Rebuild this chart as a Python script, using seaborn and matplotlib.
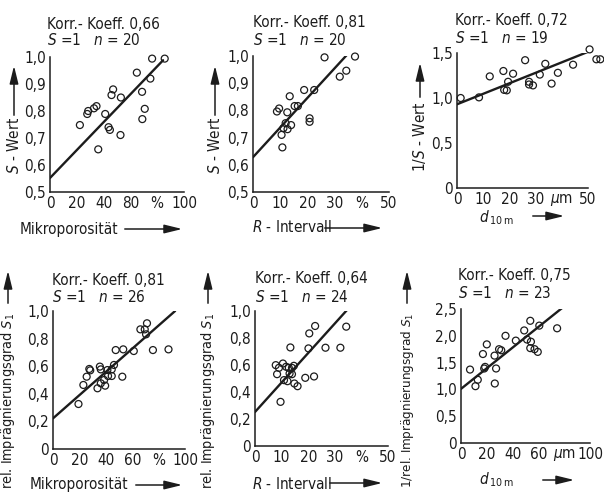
import matplotlib
matplotlib.use("Agg")
import matplotlib.pyplot as plt
from matplotlib import font_manager
import seaborn as sns
import pandas as pd

# ---- panel 1: S-Wert over Mikroporositaet
mikro_s_x = [22.3, 27.8, 28.5, 32.8, 34.7, 36.0, 41.2, 43.7, 44.7, 45.9,
             47.1, 52.6, 52.9, 64.8, 68.7, 68.9, 70.7, 74.9, 76.2, 85.6]
mikro_s_y = [0.748, 0.789, 0.800, 0.810, 0.818, 0.658, 0.789, 0.740, 0.730, 0.859,
             0.880, 0.711, 0.850, 0.942, 0.871, 0.770, 0.808, 0.920, 0.994, 0.994]
mikro_s_fit_x = [0, 84.4]
mikro_s_fit_y = [0.552, 0.988]

# ---- panel 2: S-Wert over R-Intervall
rint_s_x = [8.8, 9.6, 10.5, 10.8, 12.0, 12.6, 12.7, 13.5, 14.0, 15.3,
            16.5, 18.8, 20.8, 20.8, 22.5, 26.3, 31.9, 34.3, 37.5, 11.2]
rint_s_y = [0.796, 0.807, 0.710, 0.664, 0.753, 0.793, 0.731, 0.852, 0.746, 0.816,
            0.816, 0.875, 0.771, 0.758, 0.875, 0.995, 0.924, 0.946, 0.998, 0.735]
rint_s_fit_x = [0, 34.7]
rint_s_fit_y = [0.628, 1.006]

# ---- panel 3: 1/S-Wert over d10m
d10_s_x = [1.4, 8.4, 12.5, 17.7, 18.0, 19.0, 19.5, 21.4, 26.0, 27.5,
           27.5, 29.0, 31.6, 33.7, 36.1, 38.5, 44.3, 50.6, 53.2, 54.7]
d10_s_y = [1.00, 1.007, 1.24, 1.30, 1.09, 1.085, 1.18, 1.27, 1.42, 1.18,
           1.15, 1.14, 1.26, 1.38, 1.16, 1.28, 1.37, 1.54, 1.43, 1.43]
d10_s_fit_x = [0, 50]
d10_s_fit_y = [0.93, 1.513]

# ---- panel 4: rel. Impraegnierungsgrad over Mikroporositaet
mikro_imp_x = [19.3, 23.0, 25.5, 27.5, 28.2, 33.7, 35.5, 36.2, 36.2, 38.7,
               39.5, 41.2, 41.7, 44.5, 44.5, 46.2, 47.5, 52.5, 53.2, 61.2,
               66.2, 69.5, 70.5, 71.2, 75.7, 87.5]
mikro_imp_y = [0.326, 0.464, 0.524, 0.580, 0.570, 0.440, 0.597, 0.577, 0.476, 0.500,
               0.459, 0.572, 0.529, 0.577, 0.529, 0.609, 0.717, 0.524, 0.722, 0.710,
               0.867, 0.867, 0.831, 0.911, 0.717, 0.722]
mikro_imp_fit_x = [0, 92.5]
mikro_imp_fit_y = [0.222, 1.0]

# ---- panel 5: rel. Impraegnierungsgrad over R-Intervall
rint_imp_x = [7.8, 8.3, 9.0, 9.6, 10.5, 10.9, 12.2, 12.7, 13.0, 13.3,
              13.9, 13.9, 14.6, 14.8, 16.0, 18.9, 20.1, 20.4, 22.2, 22.6,
              26.5, 32.1, 34.3, 11.7]
rint_imp_y = [0.599, 0.532, 0.579, 0.327, 0.611, 0.488, 0.480, 0.579, 0.537, 0.730,
              0.579, 0.532, 0.594, 0.463, 0.443, 0.505, 0.723, 0.834, 0.515, 0.889,
              0.728, 0.728, 0.884, 0.587]
rint_imp_fit_x = [0, 34.8]
rint_imp_fit_y = [0.252, 1.012]

# ---- panel 6: 1/rel. Impraegnierungsgrad over d10m
d10_imp_x = [7.0, 11.2, 13.0, 17.0, 18.0, 18.7, 20.0, 26.0, 26.2, 27.2,
             29.5, 31.2, 34.5, 42.5, 49.0, 51.2, 53.7, 54.2, 53.7, 57.0,
             59.5, 60.7, 74.5]
d10_imp_y = [1.37, 1.06, 1.18, 1.66, 1.39, 1.42, 1.84, 1.63, 1.11, 1.39,
             1.75, 1.73, 2.00, 1.91, 2.10, 1.93, 2.28, 1.89, 1.77, 1.75,
             1.70, 2.19, 2.14]
d10_imp_fit_x = [0, 80]
d10_imp_fit_y = [1.01, 2.55]

# ---- ticks
mikro_ticks = [0, 20, 40, 60, 80, 100]
mikro_ticklabels = ["0", "20", "40", "80", "%", "100"]
mikro_ticklabels_b = ["0", "20", "40", "60", "%", "100"]
rint_ticks = [0, 10, 20, 30, 40, 50]
rint_ticklabels = ["0", "10", "20", "30", "%", "50"]
d10_ticks_a = [0, 10, 20, 30, 40, 50]
d10_ticklabels_a = ["0", "10", "20", "30", r"$\mu$m", "50"]
d10_ticks_b = [0, 20, 40, 60, 80, 100]
d10_ticklabels_b = ["0", "20", "40", "60", r"$\mu$m", "100"]
s_ticks = [0.5, 0.6, 0.7, 0.8, 0.9, 1.0]
s_ticklabels = ["0,5", "0,6", "0,7", "0,8", "0,9", "1,0"]
inv_s_ticks = [0, 0.5, 1.0, 1.5]
inv_s_ticklabels = ["0", "0,5", "1,0", "1,5"]
imp_ticks = [0, 0.2, 0.4, 0.6, 0.8, 1.0]
imp_ticklabels = ["0", "0,2", "0,4", "0,6", "0,8", "1,0"]
inv_imp_ticks = [0, 0.5, 1.0, 1.5, 2.0, 2.5]
inv_imp_ticklabels = ["0", "0,5", "1,0", "1,5", "2,0", "2,5"]

korr = ["0,66", "0,81", "0,72", "0,81", "0,64", "0,75"]
counts = [20, 20, 19, 26, 24, 23]

INK = "#1c1c1c"
W, H = 604, 492

sns.set_style("white")

# narrow face like the drawing lettering, if one is installed
entries = font_manager.fontManager.ttflist
narrow = [f.name for f in entries if "Narrow" in f.name or "Condensed" in f.name]
dv_cond = [f for f in entries if f.name == "DejaVu Sans" and f.stretch == "condensed"]
if dv_cond:
    FAM = "DejaVu Sans"
    plt.rcParams["font.stretch"] = "condensed"
    FS = 11
elif narrow:
    FAM = narrow[0]
    FS = 11
else:
    FAM = "DejaVu Sans"
    FS = 9.2
plt.rcParams["font.family"] = [FAM, "DejaVu Sans"]
plt.rcParams["mathtext.fontset"] = "custom"
stretch = ":stretch=condensed" if dv_cond else ""
plt.rcParams["mathtext.rm"] = FAM + stretch
plt.rcParams["mathtext.it"] = FAM + ":italic" + stretch
plt.rcParams["text.color"] = INK


def box(left, top, right, bottom):
    return [left / W, 1 - bottom / H, (right - left) / W, (bottom - top) / H]


def fxy(px, py):
    return (px / W, 1 - py / H)


def arrow(fig, p0, p1):
    fig.add_artist(matplotlib.patches.FancyArrowPatch(
        fxy(*p0), fxy(*p1), transform=fig.transFigure,
        arrowstyle="-|>,head_length=0.9,head_width=0.22",
        mutation_scale=12, color=INK, lw=1.1))


def panel(fig, rect, x, y, fit_x, fit_y, xt, xtl, yt, ytl):
    ax = fig.add_axes(rect)
    df = pd.DataFrame({"x": x, "y": y})
    sns.lineplot(x=fit_x, y=fit_y, ax=ax, color=INK, lw=1.7, zorder=2)
    sns.scatterplot(data=df, x="x", y="y", ax=ax, s=25, marker="o",
                    facecolor="none", edgecolor=INK, linewidth=0.9,
                    clip_on=False, zorder=3)
    ax.set_xlim(xt[0], xt[-1])
    ax.set_ylim(yt[0], yt[-1])
    ax.set_xticks(xt)
    ax.set_xticklabels(xtl)
    ax.set_yticks(yt)
    ax.set_yticklabels(ytl)
    ax.set_xlabel("")
    ax.set_ylabel("")
    sns.despine(ax=ax)
    for s in ("left", "bottom"):
        ax.spines[s].set_color(INK)
        ax.spines[s].set_linewidth(1.1)
    ax.tick_params(direction="in", length=5, width=1.0, colors=INK,
                   labelsize=FS, pad=3)
    ax.patch.set_alpha(0)
    return ax


fig = plt.figure(figsize=(W / 100, H / 100), dpi=100)

panels = [
    (box(50, 57, 184, 192), mikro_s_x, mikro_s_y, mikro_s_fit_x, mikro_s_fit_y,
     mikro_ticks, mikro_ticklabels, s_ticks, s_ticklabels),
    (box(253, 56, 389, 192), rint_s_x, rint_s_y, rint_s_fit_x, rint_s_fit_y,
     rint_ticks, rint_ticklabels, s_ticks, s_ticklabels),
    (box(457, 53, 588, 188), d10_s_x, d10_s_y, d10_s_fit_x, d10_s_fit_y,
     d10_ticks_a, d10_ticklabels_a, inv_s_ticks, inv_s_ticklabels),
    (box(53, 311, 185, 449), mikro_imp_x, mikro_imp_y, mikro_imp_fit_x, mikro_imp_fit_y,
     mikro_ticks, mikro_ticklabels_b, imp_ticks, imp_ticklabels),
    (box(255, 311, 388, 446), rint_imp_x, rint_imp_y, rint_imp_fit_x, rint_imp_fit_y,
     rint_ticks, rint_ticklabels, imp_ticks, imp_ticklabels),
    (box(461, 309, 590, 443), d10_imp_x, d10_imp_y, d10_imp_fit_x, d10_imp_fit_y,
     d10_ticks_b, d10_ticklabels_b, inv_imp_ticks, inv_imp_ticklabels),
]
for p in panels:
    panel(fig, *p)

# header lines above each panel
head_pos = [(47, 29, 45), (253, 27, 45), (455, 25, 43),
            (52, 285, 302), (255, 283, 302), (458, 280, 298)]
for (hx, hy1, hy2), k, n in zip(head_pos, korr, counts):
    fig.text(*fxy(hx, hy1), f"Korr.- Koeff. {k}", fontsize=FS, va="baseline")
    fig.text(*fxy(hx, hy2), f"$S$ =1   $n$ = {n}", fontsize=FS, va="baseline")

# x labels with arrows
xlabels = [
    ("Mikroporosität", 20, 234, (122, 229), (185, 229)),
    ("$R$ - Intervall", 252, 232, (322, 228), (385, 228)),
    (r"$d_{\,10\,\mathrm{m}}$", 479, 222, (530, 216), (567, 216)),
    ("Mikroporosität", 30, 489, (133, 485), (185, 485)),
    ("$R$ - Intervall", 252, 489, (327, 483), (385, 483)),
    (r"$d_{\,10\,\mathrm{m}}$", 479, 484, (540, 480), (577, 480)),
]
for txt, tx, ty, a0, a1 in xlabels:
    fig.text(*fxy(tx, ty), txt, fontsize=FS, va="baseline", ha="left")
    arrow(fig, a0, a1)

# y labels with arrows
ylabels = [
    ("$S$ - Wert", 14, 174, "bottom", FS, (14, 118), (14, 63)),
    ("$S$ - Wert", 215, 174, "bottom", FS, (215, 118), (215, 63)),
    ("1/$S$ - Wert", 420, 172, "bottom", FS, (420, 100), (420, 60)),
    ("rel. Imprägnierungsgrad $S_1$", 8, 313, "top", FS - 0.6, (8, 306), (8, 268)),
    ("rel. Imprägnierungsgrad $S_1$", 208, 313, "top", FS - 0.6, (208, 306), (208, 268)),
    ("1/rel. Imprägnierungsgrad $S_1$", 407, 313, "top", FS - 1.4, (407, 306), (407, 268)),
]
for txt, tx, ty, va, fs, a0, a1 in ylabels:
    fig.text(*fxy(tx, ty), txt, fontsize=fs, rotation=90,
             ha="center", va=va)
    arrow(fig, a0, a1)

fig.savefig("out.png", dpi=100, facecolor="white")
